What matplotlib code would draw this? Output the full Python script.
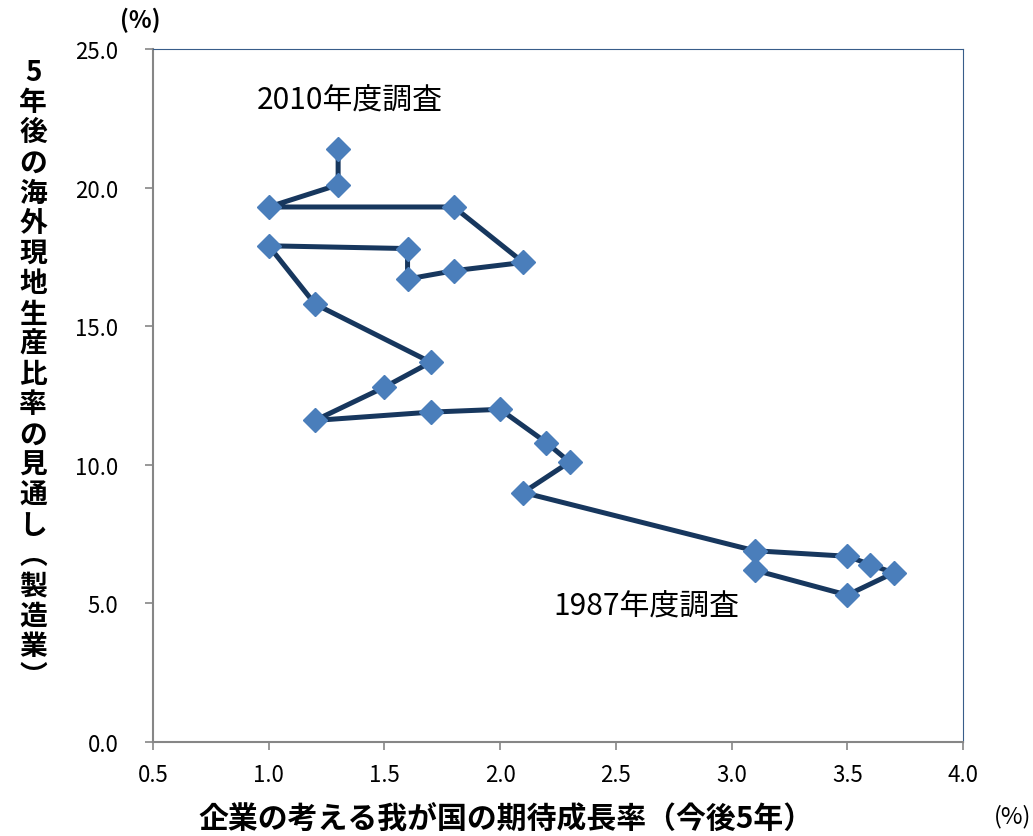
import matplotlib
matplotlib.use("Agg")
import matplotlib.pyplot as plt

plt.rcParams['font.family'] = ['Noto Sans CJK JP', 'DejaVu Sans']

# survey years 1987 -> 2010 (fiscal year)
years = list(range(1987, 2011))
growth = [3.1, 3.5, 3.7, 3.6, 3.5, 3.1, 2.1, 2.3, 2.2, 2.0, 1.7, 1.2,
          1.5, 1.7, 1.2, 1.0, 1.6, 1.6, 1.8, 2.1, 1.8, 1.0, 1.3, 1.3]
overseas = [6.2, 5.3, 6.1, 6.4, 6.7, 6.9, 9.0, 10.1, 10.8, 12.0, 11.9, 11.6,
            12.8, 13.7, 15.8, 17.9, 17.8, 16.7, 17.0, 17.3, 19.3, 19.3, 20.1, 21.4]

xticks = [0.5, 1.0, 1.5, 2.0, 2.5, 3.0, 3.5, 4.0]
yticks = [0.0, 5.0, 10.0, 15.0, 20.0, 25.0]

fig = plt.figure(figsize=(10.33, 8.37), dpi=100)
ax = fig.add_axes([0.1481, 0.1123, 0.7841, 0.828])

ax.plot(growth, overseas, color='#17375E', linewidth=3.6, zorder=2)
ax.plot(growth, overseas, linestyle='none', marker='D', markersize=12,
        color='#4A7EBB', markeredgecolor='#4A7EBB', zorder=3)

ax.set_xlim(0.5, 4.0)
ax.set_ylim(0, 25)
ax.set_xticks(xticks)
ax.set_yticks(yticks)
ax.set_xticklabels([f"{v:.1f}" for v in xticks], fontsize=16)
ax.set_yticklabels([f"{v:.1f}" for v in yticks], fontsize=16)
ax.tick_params(axis='both', direction='out', length=6, color='#868686', width=1.2)
ax.tick_params(axis='x', pad=9)
ax.tick_params(axis='y', pad=19)

ax.spines['left'].set_color('#868686')
ax.spines['bottom'].set_color('#868686')
ax.spines['left'].set_linewidth(1.5)
ax.spines['bottom'].set_linewidth(1.5)
ax.spines['top'].set_color('#385D8A')
ax.spines['right'].set_color('#385D8A')

ax.text(1.35, 23.15, f"{years[-1]}年度調査", fontsize=21.5, ha='center', va='center')
ax.text(2.63, 4.9, f"{years[0]}年度調査", fontsize=21.5, ha='center', va='center')

ylabel = "5年後の海外現地生産比率の見通し︵製造業︶"
fig.text(0.032, 0.552, "\n".join(ylabel), fontsize=20, fontweight='bold',
         ha='center', va='center', linespacing=1.1)
fig.text(0.49, 0.021, "企業の考える我が国の期待成長率（今後5年）", fontsize=21.5,
         fontweight='bold', ha='center', va='center')
fig.text(0.980, 0.024, "(%)", fontsize=17, ha='center', va='center')
fig.text(0.136, 0.976, "(%)", fontsize=17, fontweight='bold', ha='center', va='center')

fig.savefig("out.png", dpi=100)
